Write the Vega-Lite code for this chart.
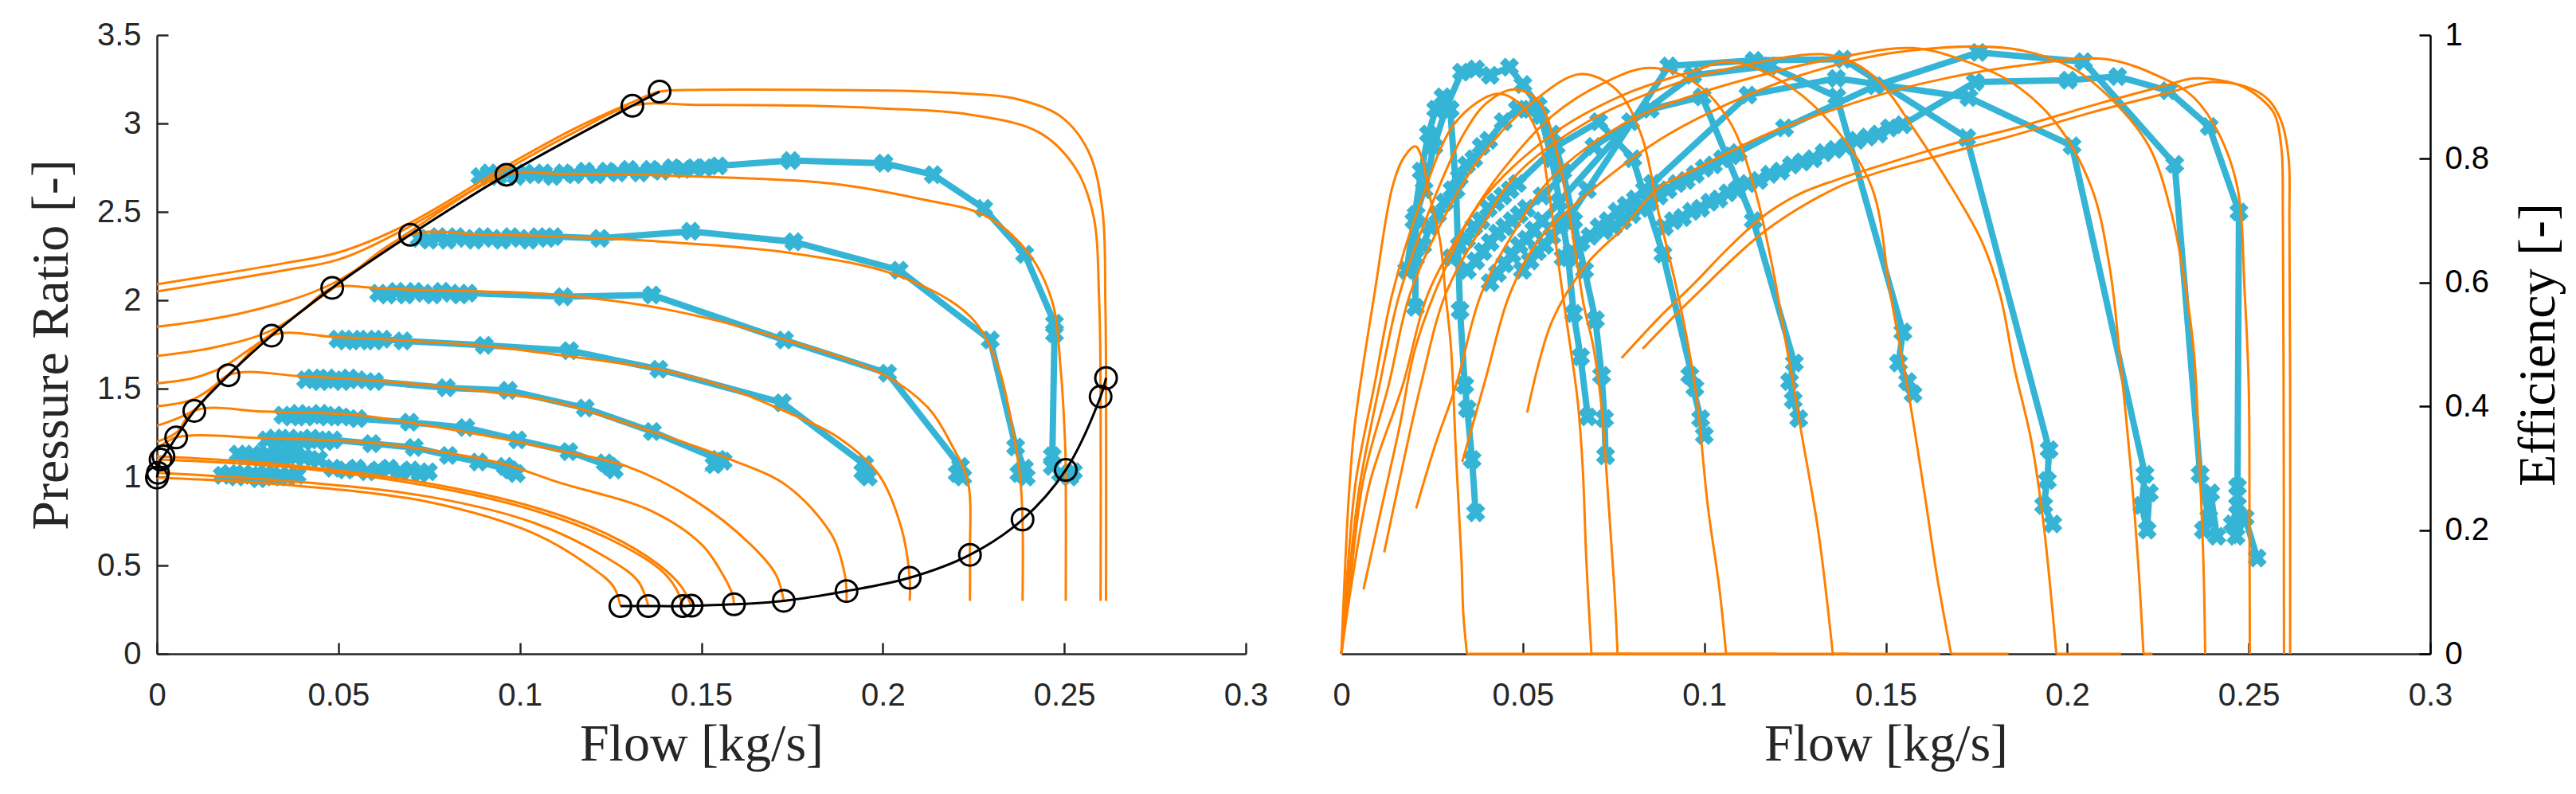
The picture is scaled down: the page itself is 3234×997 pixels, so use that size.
{
  "$schema": "https://vega.github.io/schema/vega-lite/v6.json",
  "background": "white",
  "padding": {"left": 31, "top": 24, "right": 20, "bottom": 20},
  "bounds": "flush",
  "spacing": 120,
  "config": {
    "view": {"stroke": null},
    "axis": {
      "grid": false,
      "labelFont": "Liberation Sans",
      "labelFontSize": 40,
      "labelColor": "#262626",
      "titleFont": "Liberation Serif",
      "titleFontSize": 66,
      "titleFontWeight": "normal",
      "titleColor": "#262626",
      "domainColor": "#262626",
      "domainWidth": 2.5,
      "tickColor": "#262626",
      "tickWidth": 2.5,
      "tickSize": -14,
      "labelFlush": false,
      "labelOverlap": false,
      "format": "~g"
    }
  },
  "datasets": {
    "pr_model": [
      {"s":"L1","x":0,"y":2.09},{"s":"L1","x":0.0353,"y":2.21},{"s":"L1","x":0.05,"y":2.27},{"s":"L1","x":0.069,"y":2.43},{"s":"L1","x":0.0963,"y":2.76},{"s":"L1","x":0.115,"y":2.97},{"s":"L1","x":0.131,"y":3.12},{"s":"L1","x":0.1385,"y":3.18},{"s":"L1","x":0.15,"y":3.19},{"s":"L1","x":0.18,"y":3.19},{"s":"L1","x":0.205,"y":3.185},{"s":"L1","x":0.222,"y":3.17},{"s":"L1","x":0.2366,"y":3.14},{"s":"L1","x":0.249,"y":3.04},{"s":"L1","x":0.2567,"y":2.84},{"s":"L1","x":0.2605,"y":2.51},{"s":"L1","x":0.2613,"y":2.0},{"s":"L1","x":0.2615,"y":1.56},{"s":"L1","x":0.2615,"y":0.3},
      {"s":"L2","x":0,"y":2.05},{"s":"L2","x":0.0353,"y":2.17},{"s":"L2","x":0.05,"y":2.23},{"s":"L2","x":0.069,"y":2.41},{"s":"L2","x":0.0963,"y":2.74},{"s":"L2","x":0.115,"y":2.95},{"s":"L2","x":0.131,"y":3.1},{"s":"L2","x":0.15,"y":3.105},{"s":"L2","x":0.18,"y":3.1},{"s":"L2","x":0.2,"y":3.085},{"s":"L2","x":0.224,"y":3.05},{"s":"L2","x":0.243,"y":2.95},{"s":"L2","x":0.253,"y":2.75},{"s":"L2","x":0.258,"y":2.48},{"s":"L2","x":0.2596,"y":2.0},{"s":"L2","x":0.26,"y":1.455},{"s":"L2","x":0.26,"y":0.3},
      {"s":"L3","x":0,"y":1.85},{"s":"L3","x":0.024,"y":1.93},{"s":"L3","x":0.048,"y":2.09},{"s":"L3","x":0.0698,"y":2.39},{"s":"L3","x":0.0963,"y":2.71},{"s":"L3","x":0.1106,"y":2.715},{"s":"L3","x":0.148,"y":2.7},{"s":"L3","x":0.186,"y":2.66},{"s":"L3","x":0.211,"y":2.57},{"s":"L3","x":0.228,"y":2.48},{"s":"L3","x":0.24,"y":2.27},{"s":"L3","x":0.2467,"y":1.99},{"s":"L3","x":0.249,"y":1.61},{"s":"L3","x":0.2502,"y":1.2},{"s":"L3","x":0.2504,"y":1.04},{"s":"L3","x":0.2504,"y":0.3},
      {"s":"L4","x":0,"y":1.685},{"s":"L4","x":0.015,"y":1.73},{"s":"L4","x":0.0316,"y":1.83},{"s":"L4","x":0.048,"y":2.06},{"s":"L4","x":0.0698,"y":2.37},{"s":"L4","x":0.09,"y":2.37},{"s":"L4","x":0.1106,"y":2.36},{"s":"L4","x":0.14,"y":2.33},{"s":"L4","x":0.1736,"y":2.27},{"s":"L4","x":0.204,"y":2.14},{"s":"L4","x":0.224,"y":1.91},{"s":"L4","x":0.2315,"y":1.64},{"s":"L4","x":0.2355,"y":1.3},{"s":"L4","x":0.2378,"y":1.0},{"s":"L4","x":0.2385,"y":0.76},{"s":"L4","x":0.2385,"y":0.3},
      {"s":"L5","x":0,"y":1.53},{"s":"L5","x":0.01,"y":1.56},{"s":"L5","x":0.018,"y":1.62},{"s":"L5","x":0.026,"y":1.73},{"s":"L5","x":0.0316,"y":1.81},{"s":"L5","x":0.04,"y":1.94},{"s":"L5","x":0.0483,"y":2.07},{"s":"L5","x":0.06,"y":2.07},{"s":"L5","x":0.07,"y":2.06},{"s":"L5","x":0.09,"y":2.05},{"s":"L5","x":0.1106,"y":2.03},{"s":"L5","x":0.14,"y":1.95},{"s":"L5","x":0.171,"y":1.79},{"s":"L5","x":0.201,"y":1.57},{"s":"L5","x":0.213,"y":1.38},{"s":"L5","x":0.219,"y":1.18},{"s":"L5","x":0.2234,"y":0.98},{"s":"L5","x":0.224,"y":0.56},{"s":"L5","x":0.224,"y":0.3},
      {"s":"L6","x":0,"y":1.4},{"s":"L6","x":0.01,"y":1.44},{"s":"L6","x":0.0197,"y":1.58},{"s":"L6","x":0.0316,"y":1.8},{"s":"L6","x":0.05,"y":1.79},{"s":"L6","x":0.07,"y":1.77},{"s":"L6","x":0.0913,"y":1.74},{"s":"L6","x":0.1106,"y":1.69},{"s":"L6","x":0.138,"y":1.61},{"s":"L6","x":0.155,"y":1.52},{"s":"L6","x":0.171,"y":1.39},{"s":"L6","x":0.188,"y":1.22},{"s":"L6","x":0.199,"y":1.01},{"s":"L6","x":0.205,"y":0.72},{"s":"L6","x":0.2074,"y":0.43},{"s":"L6","x":0.2074,"y":0.3},
      {"s":"L7","x":0,"y":1.29},{"s":"L7","x":0.0103,"y":1.38},{"s":"L7","x":0.0197,"y":1.576},{"s":"L7","x":0.04,"y":1.57},{"s":"L7","x":0.069,"y":1.53},{"s":"L7","x":0.1025,"y":1.45},{"s":"L7","x":0.1106,"y":1.42},{"s":"L7","x":0.136,"y":1.26},{"s":"L7","x":0.158,"y":1.1},{"s":"L7","x":0.1736,"y":0.95},{"s":"L7","x":0.186,"y":0.67},{"s":"L7","x":0.1895,"y":0.45},{"s":"L7","x":0.19,"y":0.355},{"s":"L7","x":0.19,"y":0.3},
      {"s":"L8","x":0,"y":1.2},{"s":"L8","x":0.0053,"y":1.25},{"s":"L8","x":0.0103,"y":1.374},{"s":"L8","x":0.03,"y":1.37},{"s":"L8","x":0.0553,"y":1.35},{"s":"L8","x":0.069,"y":1.31},{"s":"L8","x":0.0944,"y":1.22},{"s":"L8","x":0.1106,"y":1.15},{"s":"L8","x":0.1295,"y":1.06},{"s":"L8","x":0.148,"y":0.87},{"s":"L8","x":0.1635,"y":0.62},{"s":"L8","x":0.1705,"y":0.45},{"s":"L8","x":0.1727,"y":0.3},
      {"s":"L9","x":0,"y":1.16},{"s":"L9","x":0.0053,"y":1.224},{"s":"L9","x":0.03,"y":1.22},{"s":"L9","x":0.0553,"y":1.2},{"s":"L9","x":0.069,"y":1.17},{"s":"L9","x":0.0944,"y":1.08},{"s":"L9","x":0.1106,"y":0.97},{"s":"L9","x":0.136,"y":0.81},{"s":"L9","x":0.15,"y":0.62},{"s":"L9","x":0.155,"y":0.48},{"s":"L9","x":0.1585,"y":0.34},{"s":"L9","x":0.159,"y":0.28},
      {"s":"L10","x":0,"y":1.117},{"s":"L10","x":0.0357,"y":1.069},{"s":"L10","x":0.0748,"y":0.964},{"s":"L10","x":0.104,"y":0.829},{"s":"L10","x":0.1238,"y":0.68},{"s":"L10","x":0.1385,"y":0.5},{"s":"L10","x":0.1445,"y":0.38},{"s":"L10","x":0.1473,"y":0.27},
      {"s":"L11","x":0,"y":1.099},{"s":"L11","x":0.0357,"y":1.057},{"s":"L11","x":0.0748,"y":0.949},{"s":"L11","x":0.104,"y":0.811},{"s":"L11","x":0.1238,"y":0.658},{"s":"L11","x":0.1385,"y":0.48},{"s":"L11","x":0.143,"y":0.37},{"s":"L11","x":0.1449,"y":0.27},
      {"s":"L12","x":0,"y":1.024},{"s":"L12","x":0.0357,"y":0.978},{"s":"L12","x":0.0748,"y":0.889},{"s":"L12","x":0.104,"y":0.74},{"s":"L12","x":0.1238,"y":0.545},{"s":"L12","x":0.1326,"y":0.41},{"s":"L12","x":0.1354,"y":0.27},
      {"s":"L13","x":0,"y":0.997},{"s":"L13","x":0.0357,"y":0.956},{"s":"L13","x":0.0748,"y":0.859},{"s":"L13","x":0.104,"y":0.68},{"s":"L13","x":0.119,"y":0.5},{"s":"L13","x":0.1258,"y":0.38},{"s":"L13","x":0.1277,"y":0.27}
    ],
    "surge": [
      {"x":0,"y":0.997},{"x":0.0003,"y":1.024},{"x":0.001,"y":1.099},{"x":0.0018,"y":1.117},{"x":0.0053,"y":1.224},{"x":0.0103,"y":1.374},{"x":0.0197,"y":1.576},{"x":0.0316,"y":1.8},{"x":0.0483,"y":2.07},{"x":0.0698,"y":2.37},{"x":0.0963,"y":2.71},{"x":0.131,"y":3.1},{"x":0.1385,"y":3.18}
    ],
    "choke": [
      {"x":0.1277,"y":0.27},{"x":0.1354,"y":0.27},{"x":0.1449,"y":0.27},{"x":0.1473,"y":0.272},{"x":0.159,"y":0.28},{"x":0.1727,"y":0.3},{"x":0.19,"y":0.355},{"x":0.2074,"y":0.43},{"x":0.224,"y":0.56},{"x":0.2385,"y":0.76},{"x":0.2504,"y":1.04},{"x":0.26,"y":1.455},{"x":0.2615,"y":1.56}
    ],
    "pr_meas": [
      {"s":"B1","x":0.089,"y":2.7},{"s":"B1","x":0.0915,"y":2.72},{"s":"B1","x":0.094,"y":2.7},{"s":"B1","x":0.0965,"y":2.72},{"s":"B1","x":0.099,"y":2.7},{"s":"B1","x":0.1015,"y":2.72},{"s":"B1","x":0.104,"y":2.71},{"s":"B1","x":0.1065,"y":2.72},{"s":"B1","x":0.109,"y":2.7},{"s":"B1","x":0.112,"y":2.72},{"s":"B1","x":0.115,"y":2.71},{"s":"B1","x":0.118,"y":2.73},{"s":"B1","x":0.121,"y":2.71},{"s":"B1","x":0.124,"y":2.73},{"s":"B1","x":0.127,"y":2.72},{"s":"B1","x":0.13,"y":2.74},{"s":"B1","x":0.133,"y":2.72},{"s":"B1","x":0.136,"y":2.74},{"s":"B1","x":0.139,"y":2.73},{"s":"B1","x":0.142,"y":2.75},{"s":"B1","x":0.145,"y":2.74},{"s":"B1","x":0.148,"y":2.75},{"s":"B1","x":0.151,"y":2.75},{"s":"B1","x":0.1547,"y":2.76},{"s":"B1","x":0.1746,"y":2.79},{"s":"B1","x":0.2003,"y":2.775},{"s":"B1","x":0.2139,"y":2.71},{"s":"B1","x":0.2278,"y":2.52},{"s":"B1","x":0.2391,"y":2.26},{"s":"B1","x":0.2473,"y":1.87},{"s":"B1","x":0.2473,"y":1.81},{"s":"B1","x":0.2467,"y":1.12},{"s":"B1","x":0.2467,"y":1.06},{"s":"B1","x":0.249,"y":1.02},{"s":"B1","x":0.2515,"y":1.0},{"s":"B1","x":0.2525,"y":1.03},
      {"s":"B2","x":0.0723,"y":2.35},{"s":"B2","x":0.075,"y":2.34},{"s":"B2","x":0.0775,"y":2.36},{"s":"B2","x":0.08,"y":2.34},{"s":"B2","x":0.0825,"y":2.36},{"s":"B2","x":0.085,"y":2.35},{"s":"B2","x":0.0875,"y":2.34},{"s":"B2","x":0.09,"y":2.36},{"s":"B2","x":0.0925,"y":2.35},{"s":"B2","x":0.095,"y":2.34},{"s":"B2","x":0.0975,"y":2.36},{"s":"B2","x":0.1,"y":2.35},{"s":"B2","x":0.1025,"y":2.34},{"s":"B2","x":0.105,"y":2.36},{"s":"B2","x":0.1075,"y":2.35},{"s":"B2","x":0.1093,"y":2.36},{"s":"B2","x":0.1221,"y":2.35},{"s":"B2","x":0.1471,"y":2.39},{"s":"B2","x":0.1755,"y":2.33},{"s":"B2","x":0.2045,"y":2.17},{"s":"B2","x":0.2296,"y":1.775},{"s":"B2","x":0.2366,"y":1.17},{"s":"B2","x":0.239,"y":1.05},{"s":"B2","x":0.2375,"y":1.02},{"s":"B2","x":0.2395,"y":1.0},
      {"s":"B3","x":0.0611,"y":2.04},{"s":"B3","x":0.0635,"y":2.03},{"s":"B3","x":0.066,"y":2.05},{"s":"B3","x":0.0685,"y":2.03},{"s":"B3","x":0.071,"y":2.05},{"s":"B3","x":0.0735,"y":2.04},{"s":"B3","x":0.076,"y":2.03},{"s":"B3","x":0.0785,"y":2.05},{"s":"B3","x":0.081,"y":2.04},{"s":"B3","x":0.0835,"y":2.03},{"s":"B3","x":0.0857,"y":2.04},{"s":"B3","x":0.112,"y":2.02},{"s":"B3","x":0.1364,"y":2.03},{"s":"B3","x":0.1729,"y":1.775},{"s":"B3","x":0.2013,"y":1.587},{"s":"B3","x":0.2214,"y":1.06},{"s":"B3","x":0.2205,"y":1.02},{"s":"B3","x":0.222,"y":1.0},
      {"s":"B4","x":0.0499,"y":1.78},{"s":"B4","x":0.052,"y":1.77},{"s":"B4","x":0.054,"y":1.78},{"s":"B4","x":0.056,"y":1.77},{"s":"B4","x":0.058,"y":1.78},{"s":"B4","x":0.06,"y":1.77},{"s":"B4","x":0.0622,"y":1.78},{"s":"B4","x":0.0678,"y":1.77},{"s":"B4","x":0.0902,"y":1.745},{"s":"B4","x":0.1137,"y":1.715},{"s":"B4","x":0.1383,"y":1.61},{"s":"B4","x":0.1723,"y":1.42},{"s":"B4","x":0.195,"y":1.07},{"s":"B4","x":0.1945,"y":1.03},{"s":"B4","x":0.196,"y":1.0},
      {"s":"B5","x":0.041,"y":1.55},{"s":"B5","x":0.043,"y":1.56},{"s":"B5","x":0.045,"y":1.54},{"s":"B5","x":0.047,"y":1.56},{"s":"B5","x":0.049,"y":1.55},{"s":"B5","x":0.051,"y":1.54},{"s":"B5","x":0.053,"y":1.56},{"s":"B5","x":0.0553,"y":1.55},{"s":"B5","x":0.06,"y":1.54},{"s":"B5","x":0.0797,"y":1.505},{"s":"B5","x":0.0968,"y":1.49},{"s":"B5","x":0.118,"y":1.39},{"s":"B5","x":0.1365,"y":1.257},{"s":"B5","x":0.1547,"y":1.1},{"s":"B5","x":0.1535,"y":1.07},{"s":"B5","x":0.156,"y":1.09},
      {"s":"B6","x":0.0347,"y":1.35},{"s":"B6","x":0.037,"y":1.34},{"s":"B6","x":0.039,"y":1.36},{"s":"B6","x":0.041,"y":1.34},{"s":"B6","x":0.043,"y":1.35},{"s":"B6","x":0.045,"y":1.36},{"s":"B6","x":0.047,"y":1.34},{"s":"B6","x":0.049,"y":1.35},{"s":"B6","x":0.051,"y":1.34},{"s":"B6","x":0.0553,"y":1.33},{"s":"B6","x":0.0696,"y":1.31},{"s":"B6","x":0.0851,"y":1.28},{"s":"B6","x":0.0994,"y":1.21},{"s":"B6","x":0.1135,"y":1.144},{"s":"B6","x":0.1248,"y":1.06},{"s":"B6","x":0.1235,"y":1.08},{"s":"B6","x":0.126,"y":1.04},
      {"s":"B7","x":0.0303,"y":1.21},{"s":"B7","x":0.0325,"y":1.22},{"s":"B7","x":0.0345,"y":1.2},{"s":"B7","x":0.0365,"y":1.22},{"s":"B7","x":0.0385,"y":1.21},{"s":"B7","x":0.0405,"y":1.2},{"s":"B7","x":0.0425,"y":1.22},{"s":"B7","x":0.0445,"y":1.21},{"s":"B7","x":0.0465,"y":1.2},{"s":"B7","x":0.0485,"y":1.21},{"s":"B7","x":0.0592,"y":1.189},{"s":"B7","x":0.0709,"y":1.167},{"s":"B7","x":0.0803,"y":1.122},{"s":"B7","x":0.0886,"y":1.085},{"s":"B7","x":0.0974,"y":1.04},{"s":"B7","x":0.096,"y":1.06},{"s":"B7","x":0.099,"y":1.02},
      {"s":"B8","x":0.0224,"y":1.13},{"s":"B8","x":0.0245,"y":1.12},{"s":"B8","x":0.0265,"y":1.13},{"s":"B8","x":0.0285,"y":1.11},{"s":"B8","x":0.0305,"y":1.13},{"s":"B8","x":0.0325,"y":1.12},{"s":"B8","x":0.0345,"y":1.11},{"s":"B8","x":0.0365,"y":1.13},{"s":"B8","x":0.0385,"y":1.12},{"s":"B8","x":0.0406,"y":1.11},{"s":"B8","x":0.0446,"y":1.1},{"s":"B8","x":0.0485,"y":1.05},{"s":"B8","x":0.052,"y":1.04},{"s":"B8","x":0.055,"y":1.05},{"s":"B8","x":0.058,"y":1.03},{"s":"B8","x":0.061,"y":1.04},{"s":"B8","x":0.064,"y":1.05},{"s":"B8","x":0.067,"y":1.03},{"s":"B8","x":0.07,"y":1.04},{"s":"B8","x":0.0725,"y":1.02},{"s":"B8","x":0.0748,"y":1.03},
      {"s":"B9","x":0.018,"y":1.01},{"s":"B9","x":0.02,"y":1.02},{"s":"B9","x":0.022,"y":1.0},{"s":"B9","x":0.024,"y":1.02},{"s":"B9","x":0.026,"y":1.01},{"s":"B9","x":0.028,"y":0.99},{"s":"B9","x":0.03,"y":1.02},{"s":"B9","x":0.032,"y":1.0},{"s":"B9","x":0.034,"y":1.01},{"s":"B9","x":0.036,"y":1.0},{"s":"B9","x":0.0386,"y":1.01}
    ],
    "eff_model": [
      {"s":"E1","x":0,"y":0},{"s":"E1","x":0.0008,"y":0.11},{"s":"E1","x":0.002,"y":0.25},{"s":"E1","x":0.0035,"y":0.36},{"s":"E1","x":0.0052,"y":0.435},{"s":"E1","x":0.0091,"y":0.581},{"s":"E1","x":0.014,"y":0.753},{"s":"E1","x":0.017,"y":0.8},{"s":"E1","x":0.0204,"y":0.82},{"s":"E1","x":0.0225,"y":0.795},{"s":"E1","x":0.0238,"y":0.753},{"s":"E1","x":0.0272,"y":0.667},{"s":"E1","x":0.0287,"y":0.581},{"s":"E1","x":0.0302,"y":0.495},{"s":"E1","x":0.0316,"y":0.32},{"s":"E1","x":0.0331,"y":0.15},{"s":"E1","x":0.0336,"y":0.065},{"s":"E1","x":0.0346,"y":0},
      {"s":"Z1","x":0.0346,"y":0},{"s":"Z1","x":0.08,"y":0},
      {"s":"E2","x":0,"y":0},{"s":"E2","x":0.0015,"y":0.12},{"s":"E2","x":0.004,"y":0.28},{"s":"E2","x":0.0091,"y":0.434},{"s":"E2","x":0.014,"y":0.581},{"s":"E2","x":0.0219,"y":0.731},{"s":"E2","x":0.0316,"y":0.86},{"s":"E2","x":0.0429,"y":0.905},{"s":"E2","x":0.049,"y":0.89},{"s":"E2","x":0.0542,"y":0.839},{"s":"E2","x":0.057,"y":0.753},{"s":"E2","x":0.059,"y":0.667},{"s":"E2","x":0.061,"y":0.58},{"s":"E2","x":0.063,"y":0.5},{"s":"E2","x":0.0651,"y":0.409},{"s":"E2","x":0.0665,"y":0.3},{"s":"E2","x":0.0675,"y":0.15},{"s":"E2","x":0.0689,"y":0},
      {"s":"Z2","x":0.0689,"y":0},{"s":"Z2","x":0.1,"y":0},
      {"s":"E3","x":0,"y":0},{"s":"E3","x":0.002,"y":0.12},{"s":"E3","x":0.005,"y":0.27},{"s":"E3","x":0.0105,"y":0.434},{"s":"E3","x":0.016,"y":0.581},{"s":"E3","x":0.0238,"y":0.71},{"s":"E3","x":0.0336,"y":0.839},{"s":"E3","x":0.04,"y":0.89},{"s":"E3","x":0.0473,"y":0.912},{"s":"E3","x":0.0542,"y":0.894},{"s":"E3","x":0.06,"y":0.795},{"s":"E3","x":0.064,"y":0.667},{"s":"E3","x":0.0669,"y":0.56},{"s":"E3","x":0.0693,"y":0.5},{"s":"E3","x":0.0715,"y":0.409},{"s":"E3","x":0.0737,"y":0.237},{"s":"E3","x":0.0752,"y":0.108},{"s":"E3","x":0.0761,"y":0},
      {"s":"Z3","x":0.0761,"y":0},{"s":"Z3","x":0.12,"y":0},
      {"s":"E4","x":0,"y":0},{"s":"E4","x":0.0025,"y":0.12},{"s":"E4","x":0.006,"y":0.28},{"s":"E4","x":0.013,"y":0.434},{"s":"E4","x":0.0189,"y":0.581},{"s":"E4","x":0.0287,"y":0.71},{"s":"E4","x":0.0385,"y":0.804},{"s":"E4","x":0.0532,"y":0.894},{"s":"E4","x":0.0659,"y":0.937},{"s":"E4","x":0.0757,"y":0.912},{"s":"E4","x":0.0826,"y":0.839},{"s":"E4","x":0.0875,"y":0.71},{"s":"E4","x":0.092,"y":0.6},{"s":"E4","x":0.0955,"y":0.5},{"s":"E4","x":0.098,"y":0.409},{"s":"E4","x":0.101,"y":0.237},{"s":"E4","x":0.1041,"y":0.108},{"s":"E4","x":0.106,"y":0},
      {"s":"Z4","x":0.106,"y":0},{"s":"Z4","x":0.14,"y":0},
      {"s":"E5","x":0,"y":0},{"s":"E5","x":0.003,"y":0.12},{"s":"E5","x":0.008,"y":0.28},{"s":"E5","x":0.0169,"y":0.434},{"s":"E5","x":0.0238,"y":0.581},{"s":"E5","x":0.0336,"y":0.688},{"s":"E5","x":0.0434,"y":0.774},{"s":"E5","x":0.058,"y":0.869},{"s":"E5","x":0.0728,"y":0.924},{"s":"E5","x":0.085,"y":0.947},{"s":"E5","x":0.0971,"y":0.924},{"s":"E5","x":0.107,"y":0.86},{"s":"E5","x":0.1138,"y":0.753},{"s":"E5","x":0.1188,"y":0.624},{"s":"E5","x":0.1227,"y":0.495},{"s":"E5","x":0.1246,"y":0.434},{"s":"E5","x":0.1265,"y":0.366},{"s":"E5","x":0.1315,"y":0.194},{"s":"E5","x":0.1354,"y":0},
      {"s":"Z5","x":0.1354,"y":0},{"s":"Z5","x":0.165,"y":0},
      {"s":"E6","x":0.0061,"y":0.104},{"s":"E6","x":0.0111,"y":0.237},{"s":"E6","x":0.016,"y":0.366},{"s":"E6","x":0.0204,"y":0.495},{"s":"E6","x":0.0287,"y":0.624},{"s":"E6","x":0.0385,"y":0.731},{"s":"E6","x":0.058,"y":0.839},{"s":"E6","x":0.0776,"y":0.903},{"s":"E6","x":0.0971,"y":0.942},{"s":"E6","x":0.107,"y":0.957},{"s":"E6","x":0.1217,"y":0.924},{"s":"E6","x":0.1364,"y":0.847},{"s":"E6","x":0.1462,"y":0.753},{"s":"E6","x":0.1513,"y":0.58},{"s":"E6","x":0.156,"y":0.43},{"s":"E6","x":0.1607,"y":0.258},{"s":"E6","x":0.1642,"y":0.122},{"s":"E6","x":0.168,"y":0},
      {"s":"Z6","x":0.168,"y":0},{"s":"Z6","x":0.1838,"y":0},
      {"s":"E7","x":0.0118,"y":0.164},{"s":"E7","x":0.016,"y":0.28},{"s":"E7","x":0.0219,"y":0.435},{"s":"E7","x":0.0287,"y":0.581},{"s":"E7","x":0.0385,"y":0.688},{"s":"E7","x":0.0482,"y":0.774},{"s":"E7","x":0.0679,"y":0.86},{"s":"E7","x":0.0875,"y":0.912},{"s":"E7","x":0.107,"y":0.946},{"s":"E7","x":0.1325,"y":0.969},{"s":"E7","x":0.1412,"y":0.955},{"s":"E7","x":0.149,"y":0.92},{"s":"E7","x":0.1575,"y":0.85},{"s":"E7","x":0.1664,"y":0.77},{"s":"E7","x":0.1764,"y":0.667},{"s":"E7","x":0.1815,"y":0.58},{"s":"E7","x":0.1855,"y":0.46},{"s":"E7","x":0.19,"y":0.347},{"s":"E7","x":0.1934,"y":0.213},{"s":"E7","x":0.197,"y":0},
      {"s":"Z7","x":0.197,"y":0},{"s":"Z7","x":0.2148,"y":0},
      {"s":"E8","x":0.0206,"y":0.235},{"s":"E8","x":0.026,"y":0.34},{"s":"E8","x":0.0316,"y":0.434},{"s":"E8","x":0.0385,"y":0.581},{"s":"E8","x":0.0482,"y":0.688},{"s":"E8","x":0.058,"y":0.77},{"s":"E8","x":0.0776,"y":0.856},{"s":"E8","x":0.0971,"y":0.903},{"s":"E8","x":0.1169,"y":0.937},{"s":"E8","x":0.1364,"y":0.963},{"s":"E8","x":0.1574,"y":0.979},{"s":"E8","x":0.1714,"y":0.959},{"s":"E8","x":0.1845,"y":0.924},{"s":"E8","x":0.1966,"y":0.86},{"s":"E8","x":0.2067,"y":0.753},{"s":"E8","x":0.2117,"y":0.624},{"s":"E8","x":0.2145,"y":0.48},{"s":"E8","x":0.2175,"y":0.3},{"s":"E8","x":0.2195,"y":0.15},{"s":"E8","x":0.221,"y":0},
      {"s":"Z8","x":0.221,"y":0},{"s":"Z8","x":0.2235,"y":0},
      {"s":"E9","x":0.0333,"y":0.31},{"s":"E9","x":0.04,"y":0.45},{"s":"E9","x":0.0463,"y":0.58},{"s":"E9","x":0.0542,"y":0.667},{"s":"E9","x":0.0679,"y":0.744},{"s":"E9","x":0.0875,"y":0.83},{"s":"E9","x":0.107,"y":0.89},{"s":"E9","x":0.1265,"y":0.935},{"s":"E9","x":0.1529,"y":0.972},{"s":"E9","x":0.1845,"y":0.978},{"s":"E9","x":0.2016,"y":0.946},{"s":"E9","x":0.2147,"y":0.881},{"s":"E9","x":0.2228,"y":0.817},{"s":"E9","x":0.2288,"y":0.71},{"s":"E9","x":0.2329,"y":0.58},{"s":"E9","x":0.235,"y":0.48},{"s":"E9","x":0.2365,"y":0.3},{"s":"E9","x":0.2375,"y":0.15},{"s":"E9","x":0.238,"y":0},
      {"s":"E10","x":0.0512,"y":0.39},{"s":"E10","x":0.058,"y":0.537},{"s":"E10","x":0.0679,"y":0.632},{"s":"E10","x":0.0776,"y":0.688},{"s":"E10","x":0.0875,"y":0.753},{"s":"E10","x":0.0971,"y":0.782},{"s":"E10","x":0.1169,"y":0.839},{"s":"E10","x":0.1364,"y":0.881},{"s":"E10","x":0.1529,"y":0.911},{"s":"E10","x":0.1664,"y":0.93},{"s":"E10","x":0.1865,"y":0.95},{"s":"E10","x":0.2107,"y":0.961},{"s":"E10","x":0.2268,"y":0.929},{"s":"E10","x":0.2349,"y":0.899},{"s":"E10","x":0.2419,"y":0.839},{"s":"E10","x":0.2469,"y":0.753},{"s":"E10","x":0.2489,"y":0.581},{"s":"E10","x":0.25,"y":0.43},{"s":"E10","x":0.2502,"y":0.2},{"s":"E10","x":0.2503,"y":0},
      {"s":"E11","x":0.0772,"y":0.478},{"s":"E11","x":0.0875,"y":0.543},{"s":"E11","x":0.0971,"y":0.598},{"s":"E11","x":0.107,"y":0.658},{"s":"E11","x":0.1169,"y":0.71},{"s":"E11","x":0.1265,"y":0.744},{"s":"E11","x":0.1364,"y":0.766},{"s":"E11","x":0.1463,"y":0.785},{"s":"E11","x":0.1664,"y":0.821},{"s":"E11","x":0.1865,"y":0.851},{"s":"E11","x":0.2067,"y":0.886},{"s":"E11","x":0.2268,"y":0.918},{"s":"E11","x":0.2349,"y":0.93},{"s":"E11","x":0.2469,"y":0.92},{"s":"E11","x":0.253,"y":0.899},{"s":"E11","x":0.257,"y":0.873},{"s":"E11","x":0.259,"y":0.817},{"s":"E11","x":0.2594,"y":0.71},{"s":"E11","x":0.2596,"y":0.43},{"s":"E11","x":0.2597,"y":0},
      {"s":"E12","x":0.083,"y":0.493},{"s":"E12","x":0.0971,"y":0.577},{"s":"E12","x":0.1169,"y":0.684},{"s":"E12","x":0.1364,"y":0.753},{"s":"E12","x":0.1463,"y":0.775},{"s":"E12","x":0.1664,"y":0.808},{"s":"E12","x":0.1865,"y":0.84},{"s":"E12","x":0.2067,"y":0.875},{"s":"E12","x":0.2268,"y":0.905},{"s":"E12","x":0.24,"y":0.924},{"s":"E12","x":0.25,"y":0.915},{"s":"E12","x":0.2555,"y":0.895},{"s":"E12","x":0.259,"y":0.86},{"s":"E12","x":0.261,"y":0.8},{"s":"E12","x":0.2612,"y":0.7},{"s":"E12","x":0.2614,"y":0.43},{"s":"E12","x":0.2614,"y":0}
    ],
    "eff_meas": [
      {"s":"B1","x":0.089,"y":0.69},{"s":"B1","x":0.0915,"y":0.7},{"s":"B1","x":0.094,"y":0.705},{"s":"B1","x":0.0965,"y":0.715},{"s":"B1","x":0.099,"y":0.72},{"s":"B1","x":0.1015,"y":0.73},{"s":"B1","x":0.104,"y":0.735},{"s":"B1","x":0.1065,"y":0.745},{"s":"B1","x":0.109,"y":0.75},{"s":"B1","x":0.112,"y":0.76},{"s":"B1","x":0.115,"y":0.765},{"s":"B1","x":0.118,"y":0.775},{"s":"B1","x":0.121,"y":0.78},{"s":"B1","x":0.124,"y":0.79},{"s":"B1","x":0.127,"y":0.795},{"s":"B1","x":0.13,"y":0.8},{"s":"B1","x":0.133,"y":0.81},{"s":"B1","x":0.136,"y":0.815},{"s":"B1","x":0.139,"y":0.82},{"s":"B1","x":0.142,"y":0.83},{"s":"B1","x":0.145,"y":0.835},{"s":"B1","x":0.148,"y":0.84},{"s":"B1","x":0.151,"y":0.85},{"s":"B1","x":0.1547,"y":0.855},{"s":"B1","x":0.1746,"y":0.924},{"s":"B1","x":0.2003,"y":0.927},{"s":"B1","x":0.2139,"y":0.933},{"s":"B1","x":0.2278,"y":0.91},{"s":"B1","x":0.2391,"y":0.852},{"s":"B1","x":0.2473,"y":0.714},{"s":"B1","x":0.2469,"y":0.27},{"s":"B1","x":0.2469,"y":0.24},{"s":"B1","x":0.2455,"y":0.21},{"s":"B1","x":0.2465,"y":0.19},{"s":"B1","x":0.249,"y":0.22},{"s":"B1","x":0.2523,"y":0.155},
      {"s":"B2","x":0.0723,"y":0.684},{"s":"B2","x":0.075,"y":0.69},{"s":"B2","x":0.0775,"y":0.7},{"s":"B2","x":0.08,"y":0.71},{"s":"B2","x":0.0825,"y":0.72},{"s":"B2","x":0.085,"y":0.73},{"s":"B2","x":0.0875,"y":0.74},{"s":"B2","x":0.09,"y":0.75},{"s":"B2","x":0.0925,"y":0.76},{"s":"B2","x":0.095,"y":0.765},{"s":"B2","x":0.0975,"y":0.775},{"s":"B2","x":0.1,"y":0.785},{"s":"B2","x":0.1025,"y":0.79},{"s":"B2","x":0.105,"y":0.8},{"s":"B2","x":0.1075,"y":0.805},{"s":"B2","x":0.1093,"y":0.81},{"s":"B2","x":0.1221,"y":0.85},{"s":"B2","x":0.1471,"y":0.918},{"s":"B2","x":0.1755,"y":0.972},{"s":"B2","x":0.2045,"y":0.957},{"s":"B2","x":0.2296,"y":0.791},{"s":"B2","x":0.2366,"y":0.29},{"s":"B2","x":0.239,"y":0.22},{"s":"B2","x":0.2375,"y":0.2},{"s":"B2","x":0.2395,"y":0.26},{"s":"B2","x":0.2412,"y":0.19},
      {"s":"B3","x":0.0611,"y":0.64},{"s":"B3","x":0.0635,"y":0.65},{"s":"B3","x":0.066,"y":0.665},{"s":"B3","x":0.0685,"y":0.675},{"s":"B3","x":0.071,"y":0.69},{"s":"B3","x":0.0735,"y":0.7},{"s":"B3","x":0.076,"y":0.715},{"s":"B3","x":0.0785,"y":0.725},{"s":"B3","x":0.081,"y":0.735},{"s":"B3","x":0.0835,"y":0.75},{"s":"B3","x":0.0857,"y":0.76},{"s":"B3","x":0.112,"y":0.903},{"s":"B3","x":0.1364,"y":0.93},{"s":"B3","x":0.1729,"y":0.899},{"s":"B3","x":0.2013,"y":0.821},{"s":"B3","x":0.2214,"y":0.29},{"s":"B3","x":0.2205,"y":0.24},{"s":"B3","x":0.222,"y":0.2},{"s":"B3","x":0.2226,"y":0.26},
      {"s":"B4","x":0.0499,"y":0.62},{"s":"B4","x":0.052,"y":0.635},{"s":"B4","x":0.054,"y":0.65},{"s":"B4","x":0.056,"y":0.66},{"s":"B4","x":0.058,"y":0.675},{"s":"B4","x":0.06,"y":0.69},{"s":"B4","x":0.0622,"y":0.7},{"s":"B4","x":0.0678,"y":0.75},{"s":"B4","x":0.0902,"y":0.95},{"s":"B4","x":0.1137,"y":0.959},{"s":"B4","x":0.1383,"y":0.961},{"s":"B4","x":0.1723,"y":0.834},{"s":"B4","x":0.195,"y":0.33},{"s":"B4","x":0.1945,"y":0.28},{"s":"B4","x":0.1935,"y":0.24},{"s":"B4","x":0.196,"y":0.21},
      {"s":"B5","x":0.041,"y":0.6},{"s":"B5","x":0.043,"y":0.615},{"s":"B5","x":0.045,"y":0.63},{"s":"B5","x":0.047,"y":0.645},{"s":"B5","x":0.049,"y":0.66},{"s":"B5","x":0.051,"y":0.67},{"s":"B5","x":0.053,"y":0.685},{"s":"B5","x":0.0553,"y":0.7},{"s":"B5","x":0.06,"y":0.73},{"s":"B5","x":0.0797,"y":0.86},{"s":"B5","x":0.0968,"y":0.935},{"s":"B5","x":0.118,"y":0.95},{"s":"B5","x":0.1365,"y":0.9},{"s":"B5","x":0.1547,"y":0.52},{"s":"B5","x":0.1535,"y":0.47},{"s":"B5","x":0.156,"y":0.44},{"s":"B5","x":0.1575,"y":0.42},
      {"s":"B6","x":0.0347,"y":0.62},{"s":"B6","x":0.037,"y":0.635},{"s":"B6","x":0.039,"y":0.65},{"s":"B6","x":0.041,"y":0.665},{"s":"B6","x":0.043,"y":0.68},{"s":"B6","x":0.045,"y":0.69},{"s":"B6","x":0.047,"y":0.7},{"s":"B6","x":0.049,"y":0.71},{"s":"B6","x":0.051,"y":0.72},{"s":"B6","x":0.0553,"y":0.74},{"s":"B6","x":0.0696,"y":0.82},{"s":"B6","x":0.0851,"y":0.88},{"s":"B6","x":0.0994,"y":0.9},{"s":"B6","x":0.1135,"y":0.7},{"s":"B6","x":0.1248,"y":0.47},{"s":"B6","x":0.1235,"y":0.44},{"s":"B6","x":0.126,"y":0.38},{"s":"B6","x":0.1245,"y":0.41},
      {"s":"B7","x":0.0303,"y":0.64},{"s":"B7","x":0.0325,"y":0.66},{"s":"B7","x":0.0345,"y":0.67},{"s":"B7","x":0.0365,"y":0.69},{"s":"B7","x":0.0385,"y":0.7},{"s":"B7","x":0.0405,"y":0.72},{"s":"B7","x":0.0425,"y":0.73},{"s":"B7","x":0.0445,"y":0.74},{"s":"B7","x":0.0465,"y":0.75},{"s":"B7","x":0.0485,"y":0.76},{"s":"B7","x":0.0592,"y":0.82},{"s":"B7","x":0.0709,"y":0.86},{"s":"B7","x":0.0803,"y":0.8},{"s":"B7","x":0.0886,"y":0.646},{"s":"B7","x":0.0974,"y":0.43},{"s":"B7","x":0.096,"y":0.45},{"s":"B7","x":0.099,"y":0.38},{"s":"B7","x":0.1,"y":0.353},
      {"s":"B8","x":0.0224,"y":0.66},{"s":"B8","x":0.0245,"y":0.69},{"s":"B8","x":0.0265,"y":0.71},{"s":"B8","x":0.0285,"y":0.73},{"s":"B8","x":0.0305,"y":0.75},{"s":"B8","x":0.0325,"y":0.77},{"s":"B8","x":0.0345,"y":0.79},{"s":"B8","x":0.0365,"y":0.8},{"s":"B8","x":0.0385,"y":0.82},{"s":"B8","x":0.0406,"y":0.83},{"s":"B8","x":0.0446,"y":0.86},{"s":"B8","x":0.0485,"y":0.88},{"s":"B8","x":0.052,"y":0.88},{"s":"B8","x":0.055,"y":0.87},{"s":"B8","x":0.058,"y":0.84},{"s":"B8","x":0.061,"y":0.78},{"s":"B8","x":0.064,"y":0.7},{"s":"B8","x":0.067,"y":0.62},{"s":"B8","x":0.07,"y":0.54},{"s":"B8","x":0.0717,"y":0.45},{"s":"B8","x":0.0725,"y":0.38},{"s":"B8","x":0.0728,"y":0.32},
      {"s":"B9","x":0.018,"y":0.62},{"s":"B9","x":0.02,"y":0.7},{"s":"B9","x":0.022,"y":0.78},{"s":"B9","x":0.024,"y":0.84},{"s":"B9","x":0.026,"y":0.88},{"s":"B9","x":0.028,"y":0.9},{"s":"B9","x":0.03,"y":0.88},{"s":"B9","x":0.0316,"y":0.75},{"s":"B9","x":0.0327,"y":0.555},{"s":"B9","x":0.034,"y":0.434},{"s":"B9","x":0.0347,"y":0.396},{"s":"B9","x":0.036,"y":0.314},{"s":"B9","x":0.037,"y":0.228},
      {"s":"B10","x":0.0204,"y":0.56},{"s":"B10","x":0.0204,"y":0.64},{"s":"B10","x":0.0206,"y":0.71},{"s":"B10","x":0.0228,"y":0.75},{"s":"B10","x":0.0255,"y":0.82},{"s":"B10","x":0.0287,"y":0.88},{"s":"B10","x":0.0331,"y":0.94},{"s":"B10","x":0.037,"y":0.945},{"s":"B10","x":0.041,"y":0.935},{"s":"B10","x":0.0463,"y":0.948},{"s":"B10","x":0.05,"y":0.92},{"s":"B10","x":0.0542,"y":0.886},{"s":"B10","x":0.058,"y":0.8},{"s":"B10","x":0.061,"y":0.7},{"s":"B10","x":0.0625,"y":0.64},{"s":"B10","x":0.064,"y":0.55},{"s":"B10","x":0.0659,"y":0.48},{"s":"B10","x":0.0679,"y":0.383}
    ]
  },
  "hconcat": [
    {
      "width": 1367,
      "height": 777,
      "encoding": {
        "x": {"field": "x", "type": "quantitative",
              "scale": {"domain": [0, 0.3], "nice": false, "zero": false},
              "axis": {"title": "Flow [kg/s]", "values": [0, 0.05, 0.1, 0.15, 0.2, 0.25, 0.3], "labelPadding": 46, "titlePadding": 9}},
        "y": {"field": "y", "type": "quantitative",
              "scale": {"domain": [0, 3.5], "nice": false, "zero": false},
              "axis": {"title": "Pressure Ratio [-]", "values": [0, 0.5, 1, 1.5, 2, 2.5, 3, 3.5], "labelPadding": 34, "titlePadding": 23}}
      },
      "layer": [
        {"data": {"name": "pr_meas"}, "mark": {"type": "line", "color": "#35B4D6", "strokeWidth": 8, "order": false},
         "encoding": {"detail": {"field": "s"}}},
        {"data": {"name": "pr_meas"}, "mark": {"type": "point", "shape": "cross", "angle": 45, "filled": true, "size": 600, "color": "#35B4D6", "opacity": 1}},
        {"data": {"name": "pr_model"}, "mark": {"type": "line", "color": "#FF8000", "strokeWidth": 3, "interpolate": "catmull-rom", "order": false},
         "encoding": {"detail": {"field": "s"}}},
        {"data": {"name": "surge"}, "mark": {"type": "line", "color": "black", "strokeWidth": 3, "interpolate": "catmull-rom", "order": false}, "encoding": {}},
        {"data": {"name": "choke"}, "mark": {"type": "line", "color": "black", "strokeWidth": 3, "interpolate": "catmull-rom", "order": false}, "encoding": {}},
        {"data": {"name": "surge"}, "mark": {"type": "point", "shape": "circle", "filled": false, "size": 729, "color": "black", "strokeWidth": 3, "opacity": 1}},
        {"data": {"name": "choke"}, "mark": {"type": "point", "shape": "circle", "filled": false, "size": 729, "color": "black", "strokeWidth": 3, "opacity": 1}}
      ]
    },
    {
      "width": 1367,
      "height": 777,
      "encoding": {
        "x": {"field": "x", "type": "quantitative",
              "scale": {"domain": [0, 0.3], "nice": false, "zero": false},
              "axis": {"title": "Flow [kg/s]", "values": [0, 0.05, 0.1, 0.15, 0.2, 0.25, 0.3], "labelPadding": 46, "titlePadding": 9}},
        "y": {"field": "y", "type": "quantitative",
              "scale": {"domain": [0, 1], "nice": false, "zero": false},
              "axis": {"orient": "right", "title": "Efficiency [-]", "values": [0, 0.2, 0.4, 0.6, 0.8, 1], "labelPadding": 32, "titlePadding": 30, "titleAngle": 270, "titleBaseline": "top", "domainColor": "black", "tickColor": "black", "labelColor": "black", "titleColor": "black"}}
      },
      "layer": [
        {"data": {"name": "eff_meas"}, "mark": {"type": "line", "color": "#35B4D6", "strokeWidth": 8, "order": false},
         "encoding": {"detail": {"field": "s"}}},
        {"data": {"name": "eff_meas"}, "mark": {"type": "point", "shape": "cross", "angle": 45, "filled": true, "size": 600, "color": "#35B4D6", "opacity": 1}},
        {"data": {"name": "eff_model"}, "mark": {"type": "line", "color": "#FF8000", "strokeWidth": 3, "interpolate": "catmull-rom", "order": false},
         "encoding": {"detail": {"field": "s"}}}
      ]
    }
  ]
}
